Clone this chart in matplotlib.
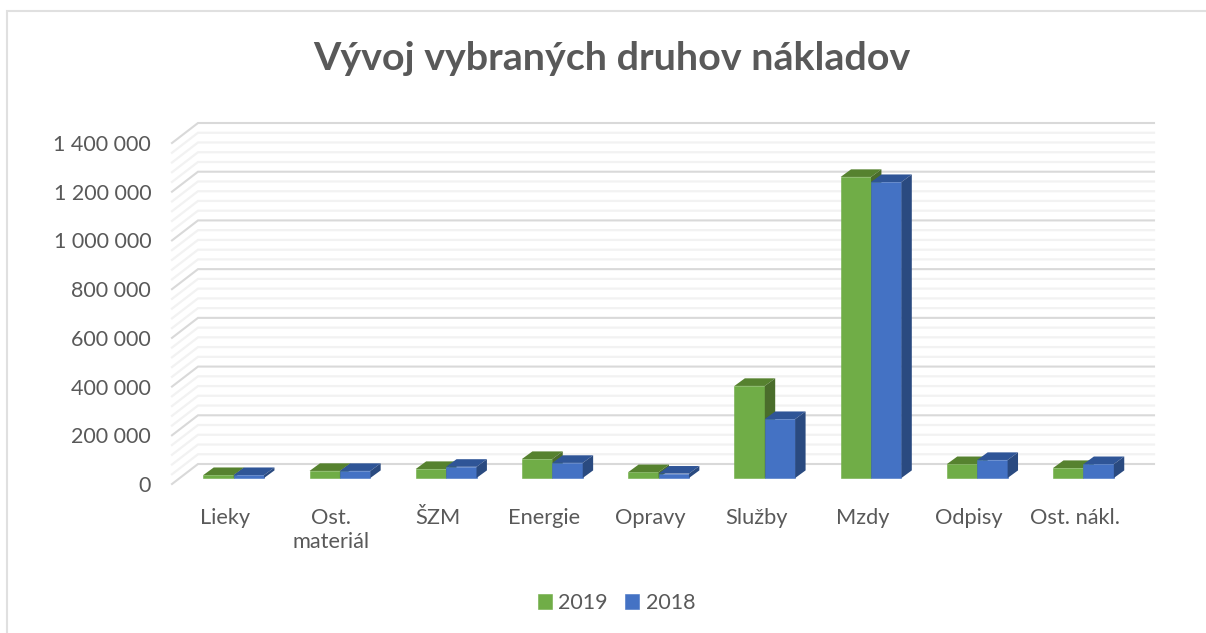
#!/usr/bin/env python

import matplotlib
matplotlib.use('Agg')
import matplotlib.pyplot as plt
from matplotlib.lines import Line2D

#################################################

# - Data
categories = ['Lieky', 'Ost.\nmateriál', 'ŠZM', 'Energie', 'Opravy', 'Služby', 'Mzdy', 'Odpisy', 'Ost. nákl.']
values_2019 = [12000, 29000, 37000, 78000, 24000, 378000, 1236000, 57000, 41000]
values_2018 = [12000, 29000, 46000, 62000, 18000, 242000, 1215000, 74000, 57000]
major_ticks = [0, 200000, 400000, 600000, 800000, 1000000, 1200000, 1400000]
major_labels = ['0', '200 000', '400 000', '600 000', '800 000', '1 000 000', '1 200 000', '1 400 000']

W, H = 1206, 633
plt.rcParams['font.family'] = ['Lato', 'DejaVu Sans']
text_col = '#595959'

fig = plt.figure(figsize=(W / 100, H / 100), dpi=100)
fig.patch.set_facecolor('white')

# - Frame: only the left and top edges show in the crop
fig.add_artist(Line2D([7 / W, 7 / W, 1], [0, 1 - 11 / H, 1 - 11 / H], transform=fig.transFigure,
                      color='#e0e0e0', lw=1.5, solid_joinstyle='miter'))

# - Front plane of the fake 3D box, placed in pixels
left, right, bottom, top = 172, 1128, 484, 143
ax = fig.add_axes([left / W, 1 - bottom / H, (right - left) / W, (bottom - top) / H])
ax.set_xlim(-0.5, 8.5)
ax.set_ylim(0, 1400000)
ax.patch.set_visible(False)
for s in ax.spines.values():
    s.set_visible(False)

# - Depth of the box in data units (26 px, 20 px)
px_x = 9.0 / (right - left)
px_y = 1400000.0 / (bottom - top)
depth_x = 26 * px_x
depth_y = 20 * px_y


def grid_line(v, col, lw):
    ax.plot([-0.5, -0.5 + depth_x, 8.5 + depth_x], [v, v + depth_y, v + depth_y],
            color=col, lw=lw, clip_on=False, zorder=1, solid_joinstyle='miter')


# - Minor lines every 40 000, major every 200 000
for i in range(36):
    if i % 5 != 0:
        grid_line(i * 40000, '#f2f2f2', 1.6)
for v in major_ticks:
    grid_line(v, '#d9d9d9', 1.5)

# - Bars sit inside the box, about 30-70 % of its depth
bar_w = 0.286
off_x = 0.33 * depth_x
off_y = 0.3 * depth_y
bar_dx = 0.4 * depth_x
bar_dy = 0.38 * depth_y


def draw_bar(x, v, front, top_col, side_col, label=None):
    x0 = x + off_x
    ax.bar(x0, v, width=bar_w, bottom=off_y, align='edge', color=front, edgecolor=front, lw=0.4,
           clip_on=False, zorder=3, label=label)
    ax.fill([x0, x0 + bar_w, x0 + bar_w + bar_dx, x0 + bar_dx],
            [off_y + v, off_y + v, off_y + v + bar_dy, off_y + v + bar_dy],
            color=top_col, lw=0, clip_on=False, zorder=3)
    ax.fill([x0 + bar_w, x0 + bar_w + bar_dx, x0 + bar_w + bar_dx, x0 + bar_w],
            [off_y, off_y + bar_dy, off_y + v + bar_dy, off_y + v],
            color=side_col, lw=0, clip_on=False, zorder=3)


for i in range(len(categories)):
    draw_bar(i - bar_w, values_2019[i], '#70ad47', '#56822f', '#4a6d2b',
             label='2019' if i == 0 else None)
    draw_bar(i, values_2018[i], '#4472c4', '#2f5597', '#2a4a80',
             label='2018' if i == 0 else None)

# - Axis text
ax.set_xticks(range(len(categories)))
ax.set_xticklabels(categories, fontsize=15.7, color=text_col, linespacing=1.25)
ax.set_yticks(major_ticks)
ax.set_yticklabels(major_labels, fontsize=15.5, color=text_col)
ax.tick_params(axis='both', length=0)
ax.tick_params(axis='x', pad=17)
ax.tick_params(axis='y', pad=15)

# - Title
fig.text(612 / W, 1 - 59 / H, 'Vývoj vybraných druhov nákladov', ha='center', va='center',
         fontsize=28.4, fontweight='bold', color=text_col)

# - Legend
fig.legend(loc='center', bbox_to_anchor=(616.5 / W, 1 - 603 / H), ncol=2, frameon=False,
           fontsize=15.5, labelcolor=text_col, handlelength=0.65, handleheight=0.65,
           handletextpad=0.3, columnspacing=0.8)

# - Save figure
plt.savefig('out.png', dpi=100)
